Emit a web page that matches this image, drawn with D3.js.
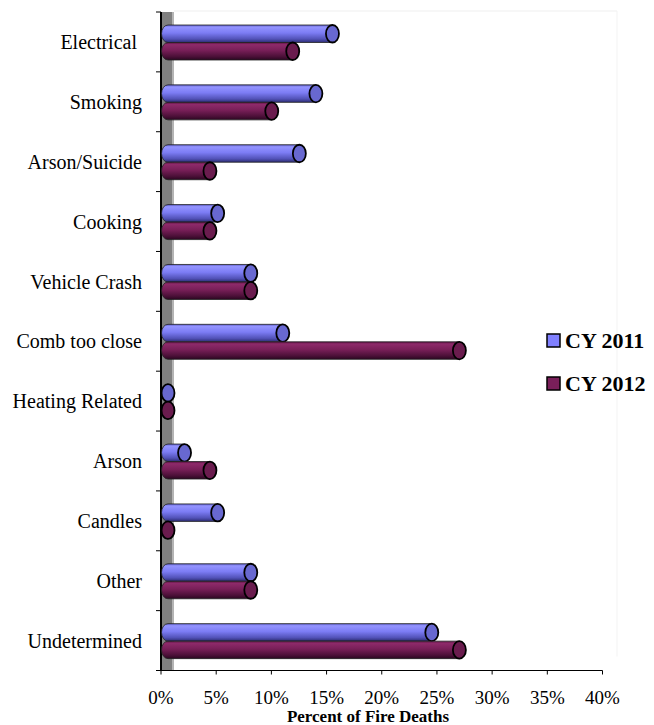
<!DOCTYPE html>
<html>
<head>
<meta charset="utf-8">
<script src="https://cdn.jsdelivr.net/npm/d3@7"></script>
<style>
  body { margin: 0; background: #fff; }
  svg { display: block; }
</style>
</head>
<body>
<div id="chart"></div>
<script>
// categories top to bottom
var categories = ["Electrical ", "Smoking", "Arson/Suicide", "Cooking", "Vehicle Crash",
  "Comb too close", "Heating Related", "Arson", "Candles", "Other", "Undetermined"];
var seriesNames = ["CY 2011", "CY 2012"];
// percent of fire deaths
var cy2011 = [14.9, 13.4, 11.9, 4.5, 7.5, 10.4, 0, 1.5, 4.5, 7.5, 23.9];
var cy2012 = [11.3, 9.4, 3.8, 3.8, 7.5, 26.4, 0, 3.8, 0, 7.5, 26.4];
var xTicks = [0, 5, 10, 15, 20, 25, 30, 35, 40];

var W = 654, H = 725;
var plotL = 161, plotR = 602.5, plotT = 12, plotB = 670.5;
var depth = 7; // 3d offset of the bars off the wall
var rx = 6.5;

var svg = d3.select('#chart').append('svg').attr('width', W).attr('height', H);
var defs = svg.append('defs');

var grads = [
  {id: 'g2011', stops: [[0, '#5c5cc8'], [0.12, '#9494ff'], [0.45, '#7c7cf4'], [0.8, '#5252b8'], [1, '#2c2c72']], cap: '#6868d0'},
  {id: 'g2012', stops: [[0, '#5a1242'], [0.12, '#8e2a6a'], [0.45, '#781f58'], [0.8, '#4c1038'], [1, '#2a0620']], cap: '#6a1c4e'}
];
grads.forEach(function(g){
  var lg = defs.append('linearGradient').attr('id', g.id)
    .attr('x1', 0).attr('y1', 0).attr('x2', 0).attr('y2', 1);
  g.stops.forEach(function(s){
    lg.append('stop').attr('offset', s[0]).attr('stop-color', s[1]);
  });
});

var x = d3.scaleLinear().domain([0, 40]).range([plotL, plotR]);
var y = d3.scaleBand().domain(categories).range([plotT, plotB]);
var inner = d3.scaleBand().domain([0, 1]).range([13, 48]);

// faint back wall edges
svg.append('line').attr('x1', plotL + 13).attr('x2', 617).attr('y1', 11).attr('y2', 11)
  .attr('stroke', '#efefef');
svg.append('line').attr('x1', 617).attr('x2', 617).attr('y1', 11).attr('y2', plotB - 14)
  .attr('stroke', '#f3f3f3');

// side wall
svg.append('rect').attr('x', plotL).attr('y', plotT).attr('width', 13).attr('height', plotB - plotT)
  .attr('fill', '#808080');
svg.append('rect').attr('x', plotL + 11).attr('y', plotT).attr('width', 2).attr('height', plotB - plotT)
  .attr('fill', '#b4b4b4');

// y axis
svg.append('line').attr('x1', plotL).attr('x2', plotL).attr('y1', plotT).attr('y2', plotB)
  .attr('stroke', '#000').attr('stroke-width', 2);
var yTickPos = categories.map(function(c){ return y(c); }).concat([plotB]);
svg.selectAll('line.ytick').data(yTickPos).enter().append('line')
  .attr('class', 'ytick')
  .attr('x1', plotL - 5).attr('x2', plotL)
  .attr('y1', function(d){ return d; }).attr('y2', function(d){ return d; })
  .attr('stroke', '#000');

svg.selectAll('text.cat').data(categories).enter().append('text')
  .attr('class', 'cat')
  .attr('x', 142)
  .attr('y', function(d){ return y(d) + y.bandwidth() / 2; })
  .attr('dy', '0.36em')
  .attr('text-anchor', 'end')
  .style('white-space', 'pre')
  .style('font-family', '"Liberation Serif", serif')
  .style('font-size', '20px')
  .text(function(d){ return d; });

// x axis
svg.append('line').attr('x1', plotL).attr('x2', plotR).attr('y1', plotB).attr('y2', plotB)
  .attr('stroke', '#000');
svg.selectAll('line.xtick').data(xTicks).enter().append('line')
  .attr('class', 'xtick')
  .attr('x1', function(d){ return x(d); }).attr('x2', function(d){ return x(d); })
  .attr('y1', plotB).attr('y2', plotB + 4)
  .attr('stroke', '#000');
svg.selectAll('text.xlab').data(xTicks).enter().append('text')
  .attr('class', 'xlab')
  .attr('x', function(d){ return x(d); })
  .attr('y', 704)
  .attr('text-anchor', 'middle')
  .style('font-family', '"Liberation Serif", serif')
  .style('font-size', '19px')
  .text(function(d){ return d + '%'; });
svg.append('text')
  .attr('x', 368).attr('y', 722)
  .attr('text-anchor', 'middle')
  .style('font-family', '"Liberation Serif", serif')
  .style('font-size', '17px')
  .style('font-weight', 'bold')
  .text('Percent of Fire Deaths');

// bars as cylinders
var series = [cy2011, cy2012];
series.forEach(function(vals, s){
  var g = svg.append('g').attr('class', 'series-' + s);
  var rows = vals.map(function(v, i){ return {cat: categories[i], v: v}; });
  var h = inner.bandwidth();
  var item = g.selectAll('g.bar').data(rows).enter().append('g').attr('class', 'bar');
  item.append('path')
    .attr('d', function(d){
      var y0 = y(d.cat) + inner(s), y1 = y0 + h;
      var x0 = x(0) + depth, x1 = x(d.v) + depth;
      return 'M' + x1 + ',' + y0 + 'L' + x0 + ',' + y0 +
        'A' + rx + ',' + (h / 2) + ' 0 0 0 ' + x0 + ',' + y1 +
        'L' + x1 + ',' + y1 + 'Z';
    })
    .attr('fill', 'url(#' + grads[s].id + ')')
    .attr('stroke', '#222').attr('stroke-width', 0.8);
  item.append('ellipse')
    .attr('cx', function(d){ return x(d.v) + depth; })
    .attr('cy', function(d){ return y(d.cat) + inner(s) + h / 2; })
    .attr('rx', rx).attr('ry', h / 2)
    .attr('fill', grads[s].cap)
    .attr('stroke', '#000').attr('stroke-width', 1.8);
});

// legend
var legend = svg.append('g').selectAll('g').data(seriesNames).enter().append('g')
  .attr('transform', function(d, i){ return 'translate(547,' + (334 + i * 43) + ')'; });
legend.append('rect').attr('width', 13).attr('height', 13)
  .attr('fill', function(d, i){ return i == 0 ? '#8080ff' : '#7a1f5a'; })
  .attr('stroke', '#000').attr('stroke-width', 1.5);
legend.append('text')
  .attr('x', 18).attr('y', 14)
  .style('font-family', '"Liberation Serif", serif')
  .style('font-size', '22px')
  .style('font-weight', 'bold')
  .text(function(d){ return d; });
</script>
</body>
</html>
